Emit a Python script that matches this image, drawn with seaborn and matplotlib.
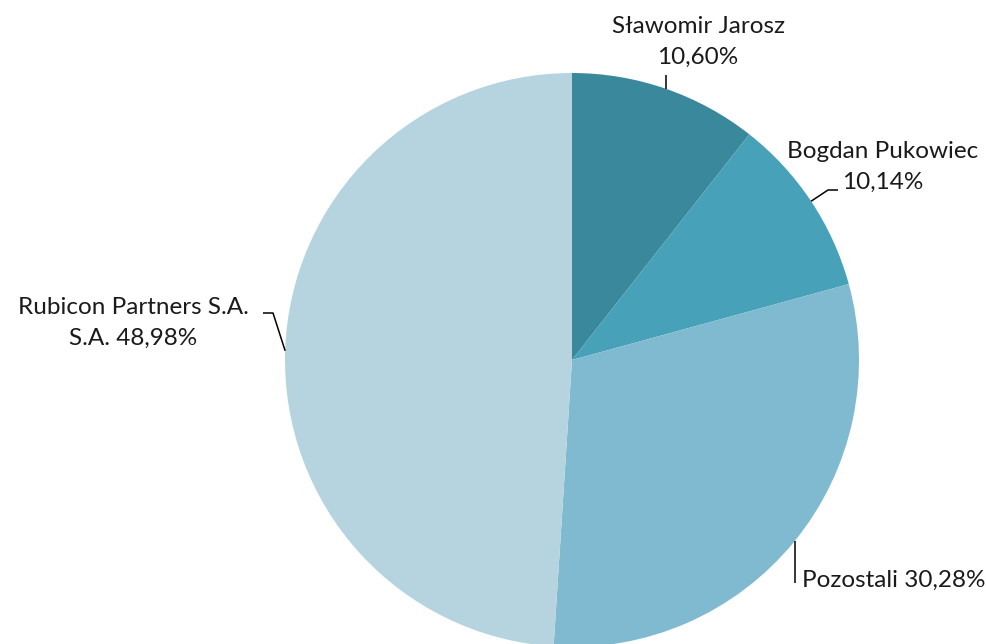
import numpy as np
import seaborn as sns
import matplotlib.pyplot as plt

# === Data ===
names = ["Sławomir Jarosz", "Bogdan Pukowiec", "Pozostali", "Rubicon Partners S.A."]
shares = [10.60, 10.14, 30.28, 48.98]
label_texts = ["Sławomir Jarosz\n10,60%", "Bogdan Pukowiec\n10,14%",
               "Pozostali 30,28%", "Rubicon Partners S.A.\nS.A. 48,98%"]
colors = ["#3a889b", "#47a1b9", "#7fbad0", "#b6d4df"]

sns.set_theme(style="white")
plt.rcParams['font.family'] = ['Lato', 'DejaVu Sans']

W, H = 987, 644
fig = plt.figure(figsize=(W / 100, H / 100), dpi=100)
ax = fig.add_axes([0, 0, 1, 1])

cx, cy, r = 572, H - 360, 287
wedges, _ = ax.pie(shares, colors=sns.color_palette(colors), startangle=90,
                   counterclock=False, center=(cx, cy), radius=r,
                   wedgeprops=dict(linewidth=0))
ax.set_xlim(0, W)
ax.set_ylim(0, H)
ax.set_aspect('equal', adjustable='datalim')
ax.axis('off')

# === Labels with leader lines (pixel layout, y measured from top) ===
layout = [
    dict(text=(698, 42), bend=None, end=(667, 75), ha='center'),
    dict(text=(883, 167), bend=(828, 190), end=(838, 190), ha='center'),
    dict(text=(802, 580), bend=None, end=(797, 583), ha='left'),
    dict(text=(133, 323), bend=(273, 313), end=(263, 313), ha='center'),
]

for w, lay, txt in zip(wedges, layout, label_texts):
    ang = np.deg2rad((w.theta1 + w.theta2) / 2)
    sx, sy = cx + r * np.cos(ang), cy + r * np.sin(ang)
    ex, ey = lay['end']
    if lay['bend'] is None:
        xs, ys = [sx, sx], [sy, H - ey]
    else:
        bx, by = lay['bend']
        xs, ys = [sx, bx, ex], [sy, H - by, H - ey]
    ax.plot(xs, ys, color='black', linewidth=1.1, solid_capstyle='butt')
    tx, ty = lay['text']
    ax.text(tx, H - ty, txt, ha=lay['ha'], va='center', fontsize=17.5,
            color='#1a1a1a', linespacing=1.55)

plt.savefig("out.png", dpi=100)
